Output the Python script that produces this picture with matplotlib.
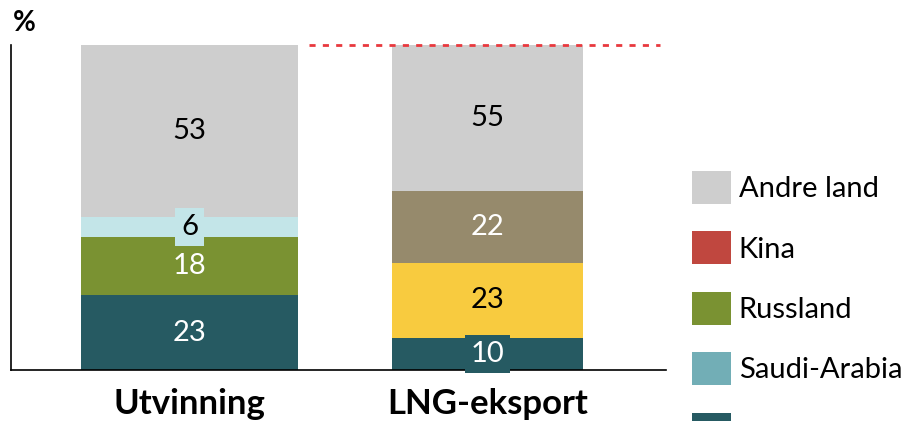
import matplotlib.pyplot as plt
from matplotlib.patches import Patch

# Data (bottom to top in each bar)
categories = ['Utvinning', 'LNG-eksport']

utv_series = ['USA', 'Russland', 'Saudi-Arabia', 'Andre land']
utv_values = [23, 18, 6, 53]
utv_labels = ['23', '18', '6', '53']

lng_series = ['USA', 'Qatar', 'Australia', 'Andre land']
lng_values = [10, 23, 22, 45]
lng_labels = ['10', '23', '22', '55']

# last legend entry is cut off at the bottom edge in the original, only its swatch shows
legend_names = ['Andre land', 'Kina', 'Russland', 'Saudi-Arabia', 'USA']
legend_texts = ['Andre land', 'Kina', 'Russland', 'Saudi-Arabia', '']

# Styles
bar_colors = {'USA': '#265A62', 'Russland': '#7A9232', 'Saudi-Arabia': '#C3E5E8',
              'Andre land': '#CECECE', 'Qatar': '#F8CB3F', 'Australia': '#968A6C'}
legend_colors = {'Andre land': '#CECECE', 'Kina': '#C0473F', 'Russland': '#7A9232',
                 'Saudi-Arabia': '#72AEB6', 'USA': '#265A62'}
text_colors = {'USA': 'white', 'Russland': 'white', 'Saudi-Arabia': 'black',
               'Andre land': 'black', 'Qatar': 'black', 'Australia': 'white'}
widths = [0.73, 0.64]

plt.rcParams['font.family'] = ['Lato', 'DejaVu Sans']

fig = plt.figure(figsize=(9.09, 4.21), dpi=100)
ax = fig.add_axes([11 / 909, 51 / 421, 655 / 909, 325 / 421])

bars = [(utv_series, utv_values, utv_labels), (lng_series, lng_values, lng_labels)]
for i, (names, vals, labs) in enumerate(bars):
    bottom = 0
    for name, v, lab in zip(names, vals, labs):
        ax.bar(i, v, widths[i], bottom=bottom, color=bar_colors[name], linewidth=0)
        ax.text(i, bottom + v / 2, lab, ha='center', va='center', fontsize=21,
                color=text_colors[name],
                bbox=dict(boxstyle='square,pad=0.2', fc=bar_colors[name], ec='none'))
        bottom += v

# red dashed reference line at the top
ax.hlines(100, 0.40, 1.58, colors='#E8393E', linewidth=2,
          linestyles=(0, (2.2, 2.6)), clip_on=False)

ax.set_xlim(-0.6, 1.6)
ax.set_ylim(0, 100)
ax.set_xticks(range(len(categories)))
ax.set_xticklabels(categories, fontsize=25, fontweight='bold')
ax.tick_params(axis='x', length=0, pad=13)
ax.set_yticks([])
for s in ['top', 'right']:
    ax.spines[s].set_visible(False)
for s in ['left', 'bottom']:
    ax.spines[s].set_color('black')
    ax.spines[s].set_linewidth(1.2)

fig.text(13 / 909, 1 - 31 / 421, '%', fontsize=20, fontweight='bold')

handles = [Patch(facecolor=legend_colors[n], edgecolor='none') for n in legend_names]
fig.legend(handles, legend_texts, loc='upper left',
           bbox_to_anchor=(692 / 909, 1 - 171 / 421), frameon=False, fontsize=21,
           handlelength=1.35, handleheight=1.35, labelspacing=0.95,
           handletextpad=0.25, borderpad=0, borderaxespad=0)

fig.savefig('out.png', dpi=100)
